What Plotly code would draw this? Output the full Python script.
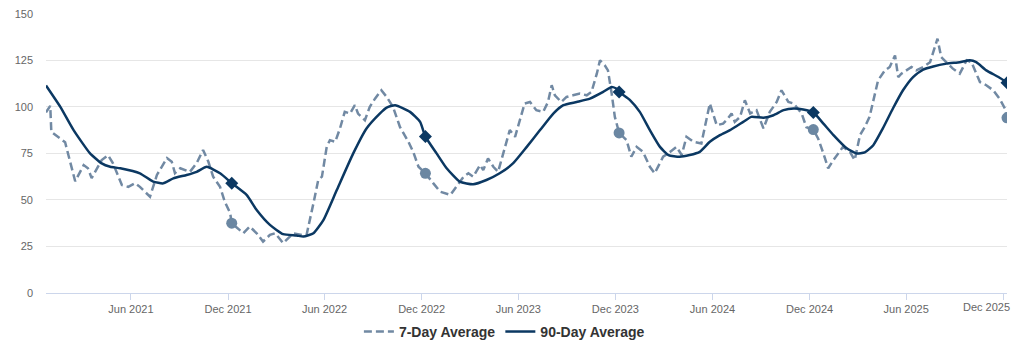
import plotly.graph_objects as go

# ---------------- data ----------------
seven_day_dates = [
    "2020-12-23", "2020-12-31", "2021-01-02", "2021-01-09", "2021-01-19", "2021-01-28", "2021-02-16",
    "2021-03-04", "2021-03-12", "2021-03-19", "2021-04-07", "2021-04-19", "2021-04-28",
    "2021-05-15", "2021-05-27", "2021-06-09", "2021-06-18", "2021-07-07", "2021-07-20",
    "2021-08-08", "2021-08-17", "2021-08-23", "2021-09-02", "2021-09-20", "2021-10-03",
    "2021-10-15", "2021-10-25", "2021-11-03", "2021-11-16", "2021-11-25", "2021-12-05",
    "2021-12-08", "2021-12-30", "2022-01-11", "2022-01-24", "2022-02-05", "2022-02-18",
    "2022-02-28", "2022-03-15", "2022-04-03", "2022-04-19", "2022-04-28", "2022-05-11",
    "2022-05-20", "2022-05-27", "2022-06-05", "2022-06-11", "2022-06-21", "2022-06-30",
    "2022-07-09", "2022-07-19", "2022-07-28", "2022-08-03", "2022-08-16", "2022-08-25",
    "2022-09-04", "2022-09-16", "2022-09-26", "2022-10-08", "2022-10-21", "2022-11-06",
    "2022-11-15", "2022-11-25", "2022-12-08", "2022-12-23", "2023-01-05", "2023-01-24",
    "2023-02-05", "2023-02-18", "2023-02-27", "2023-03-08", "2023-03-21", "2023-03-27",
    "2023-04-05", "2023-04-15", "2023-04-24", "2023-05-07", "2023-05-16", "2023-05-26",
    "2023-06-04", "2023-06-13", "2023-06-23", "2023-07-05", "2023-07-18", "2023-07-27",
    "2023-08-03", "2023-08-09", "2023-08-21", "2023-08-31", "2023-09-12", "2023-09-25",
    "2023-10-08", "2023-10-17", "2023-10-27", "2023-11-02", "2023-11-11", "2023-11-17",
    "2023-11-24", "2023-11-30", "2023-12-08", "2023-12-22", "2023-12-31", "2024-01-10",
    "2024-01-22", "2024-02-04", "2024-02-13", "2024-02-29", "2024-03-13", "2024-03-25",
    "2024-04-04", "2024-04-13", "2024-04-26", "2024-05-11", "2024-05-27", "2024-06-09",
    "2024-06-21", "2024-06-30", "2024-07-07", "2024-07-13", "2024-07-23", "2024-08-01",
    "2024-08-11", "2024-08-23", "2024-09-05", "2024-09-17", "2024-09-30", "2024-10-09",
    "2024-10-22", "2024-11-01", "2024-11-16", "2024-11-25", "2024-12-08", "2024-12-17",
    "2024-12-27", "2025-01-05", "2025-01-15", "2025-01-24", "2025-02-02", "2025-02-15",
    "2025-02-24", "2025-03-06", "2025-03-15", "2025-03-24", "2025-03-31", "2025-04-09",
    "2025-04-22", "2025-05-01", "2025-05-11", "2025-05-17", "2025-05-23", "2025-06-02",
    "2025-06-11", "2025-06-20", "2025-07-03", "2025-07-16", "2025-07-25", "2025-07-30",
    "2025-08-06", "2025-08-16", "2025-08-28", "2025-09-10", "2025-09-23", "2025-10-02",
    "2025-10-08", "2025-10-18", "2025-10-30", "2025-11-12", "2025-11-24", "2025-12-04",
    "2025-12-08",
]
seven_day_values = [
    97, 100.5, 86.6, 85, 83, 81, 60,
    68.7, 67, 61.7, 71.4, 74, 69.8,
    58, 57, 59, 57, 51.7, 63.4,
    72.5, 70.5, 64.4, 67, 65, 69.8,
    76.8, 70.5, 62.5, 57, 49, 43,
    37.5, 32.1, 35.7, 32.1, 27.6, 31.2,
    32.1, 26.8, 32.1, 31.2, 31.2, 48.2,
    60.7, 62.5, 78.5, 82.1, 81.2, 88.4,
    97.3, 96.4, 100.9, 96.4, 92.8, 99.9,
    104.4, 108.9, 105.3, 99.9, 89.2, 81.2,
    75.8, 67.8, 64.3, 58.9, 54.4, 52.7,
    57.1, 62.5, 64.3, 62.5, 68.7, 66,
    72.3, 67.8, 65.1, 78.5, 87.5, 83.9,
    92.8, 101.8, 102.6, 98.2, 97.3, 102.6,
    111.6, 106.2, 102.6, 105.3, 106.2, 107.1,
    106.2, 108, 117.8, 125, 122.3, 119.6,
    107.1, 94.6, 86, 82.1, 73.2, 78.5,
    75.8, 67.8, 64.3, 73.2, 75.8, 78.5,
    74.1, 83.9, 81.2, 80.3, 101.8, 90.1,
    91, 93.7, 96.4, 91.9, 94.6, 103.5,
    96.4, 98.2, 88.4, 97.3, 102.6, 108.9,
    102.6, 101.8, 96.4, 89, 87.8, 83,
    75, 67, 71.4, 75, 78.5, 75.8,
    71.4, 84.8, 89.2, 94.6, 103.5, 114.2,
    119.6, 121.4, 127.6, 116, 117.8, 119.6,
    121.4, 119.6, 121.4, 124, 132.1, 136.6,
    126.7, 124, 120.5, 117.8, 125, 124,
    119.6, 113.3, 111.6, 108.9, 104.4, 99.1,
    94.1,
]

ninety_day_dates = [
    "2020-12-23", "2021-01-19", "2021-02-13", "2021-03-16", "2021-04-07", "2021-04-23",
    "2021-05-12", "2021-06-18", "2021-07-13", "2021-08-01", "2021-08-20", "2021-09-14",
    "2021-10-03", "2021-10-22", "2021-11-16", "2021-12-08", "2022-01-05", "2022-01-24",
    "2022-02-18", "2022-03-15", "2022-04-09", "2022-04-22", "2022-05-11", "2022-05-30",
    "2022-06-24", "2022-07-25", "2022-08-19", "2022-09-13", "2022-09-26", "2022-10-12",
    "2022-11-09", "2022-11-28", "2022-12-08", "2022-12-29", "2023-01-17", "2023-02-11",
    "2023-03-08", "2023-04-02", "2023-04-27", "2023-05-22", "2023-06-17", "2023-07-12",
    "2023-08-06", "2023-08-25", "2023-09-19", "2023-10-14", "2023-11-08", "2023-11-24",
    "2023-12-03", "2023-12-08", "2023-12-29", "2024-01-16", "2024-02-04", "2024-02-23",
    "2024-03-10", "2024-03-31", "2024-04-19", "2024-05-08", "2024-05-27", "2024-06-15",
    "2024-07-04", "2024-07-16", "2024-07-29", "2024-08-13", "2024-09-05", "2024-09-24",
    "2024-10-13", "2024-11-01", "2024-11-19", "2024-12-08", "2024-12-27", "2025-01-15",
    "2025-02-09", "2025-02-27", "2025-03-15", "2025-03-31", "2025-04-18", "2025-05-07",
    "2025-05-26", "2025-06-14", "2025-07-03", "2025-07-22", "2025-08-16", "2025-09-10",
    "2025-09-29", "2025-10-11", "2025-10-30", "2025-11-22", "2025-12-08",
]
ninety_day_values = [
    111.5, 100, 87.5, 75, 69.6, 67.8,
    67, 64.3, 59.8, 58.9, 61.6, 63.4,
    65.1, 67.8, 64.3, 59, 52.7, 44.6,
    36.6, 31.6, 30.9, 30.3, 32.1, 39.3,
    55.3, 75, 88.4, 96.4, 99.6, 100.9,
    97.3, 91.9, 84, 75, 67, 59.8,
    58.4, 60.7, 64.3, 69.6, 78.5, 87.5,
    96.4, 100.9, 102.6, 104.4, 108, 110.7,
    109.8, 108, 103.5, 97.3, 87.5, 78.5,
    74.1, 73.2, 74.1, 75.8, 81.2, 84.8,
    87.5, 89.6, 91.9, 94.6, 94.1, 95.5,
    98.2, 99.1, 98.6, 97, 91, 84.8,
    77.7, 75, 75.5, 79.4, 88.4, 99.1,
    108.9, 116, 120, 121.7, 123.2, 124,
    125, 124, 119.6, 116, 113,
]

marker_dates = ["2021-12-08", "2022-12-08", "2023-12-08", "2024-12-08", "2025-12-08"]

tick_dates = ["2021-06-01", "2021-12-01", "2022-06-01", "2022-12-01", "2023-06-01",
              "2023-12-01", "2024-06-01", "2024-12-01", "2025-06-01", "2025-12-01"]
tick_labels = ["Jun 2021", "Dec 2021", "Jun 2022", "Dec 2022", "Jun 2023",
               "Dec 2023", "Jun 2024", "Dec 2024", "Jun 2025", "Dec 2025"]
y_ticks = [0, 25, 50, 75, 100, 125, 150]

# ---------------- styles ----------------
C7 = "#7189a3"
C7_MARK = "#6b87a2"
C90 = "#0b3862"
FONT = "Liberation Sans, Arial, sans-serif"

seven_map = dict(zip(seven_day_dates, seven_day_values))
ninety_map = dict(zip(ninety_day_dates, ninety_day_values))

fig = go.Figure()
fig.add_trace(go.Scatter(
    x=seven_day_dates, y=seven_day_values, mode="lines", name="7-Day Average",
    line=dict(color=C7, width=2.5, dash="8px,4px"),
))
fig.add_trace(go.Scatter(
    x=ninety_day_dates, y=ninety_day_values, mode="lines", name="90-Day Average",
    line=dict(color=C90, width=2.5, shape="spline", smoothing=0.5),
))
fig.add_trace(go.Scatter(
    x=marker_dates, y=[seven_map[d] for d in marker_dates], mode="markers",
    showlegend=False, marker=dict(color=C7_MARK, size=11, symbol="circle",
                                  line=dict(width=0)),
))
fig.add_trace(go.Scatter(
    x=marker_dates, y=[ninety_map[d] for d in marker_dates], mode="markers",
    showlegend=False, marker=dict(color=C90, size=10, symbol="diamond",
                                  line=dict(width=0)),
))

# last tick label is nudged left so it stays inside the page (as in the reference)
shown_ticktext = tick_labels[:-1] + [""]
fig.add_annotation(
    x=tick_dates[-1], y=0, xref="x", yref="y", text=tick_labels[-1],
    showarrow=False, yanchor="top", xanchor="center", xshift=-17, yshift=-6,
    font=dict(family=FONT, size=11, color="#666666"),
)

# page body has an 8px margin, so the figure is 8px smaller than the window
fig.update_layout(
    width=1016, height=353,
    margin=dict(l=38, r=17, t=5, b=68, autoexpand=False),
    paper_bgcolor="white", plot_bgcolor="white",
    font=dict(family=FONT, color="#666666", size=11),
    showlegend=True,
    legend=dict(orientation="h", x=0.477, xanchor="center", y=-0.139, yanchor="middle",
                font=dict(family=FONT, size=14, color="#333333", weight="bold"),
                itemwidth=30, tracegroupgap=0, bgcolor="rgba(0,0,0,0)"),
    hovermode="x unified",
)
fig.update_xaxes(
    type="date", range=["2020-12-23", "2025-12-08"], automargin=False,
    tickvals=tick_dates, ticktext=shown_ticktext,
    showgrid=False, showline=True, linecolor="#ccd6eb", linewidth=1,
    ticks="outside", ticklen=6, tickcolor="#ccd6eb",
    tickfont=dict(size=11, color="#666666"), zeroline=False,
)
fig.update_yaxes(
    range=[0, 150.4], tickvals=y_ticks, showgrid=True, gridcolor="#e6e6e6", gridwidth=1,
    zeroline=False, showline=False, ticks="", ticklabelstandoff=12, automargin=False,
    ticklabeloverflow="allow",
    tickfont=dict(size=11, color="#666666"),
)

fig.write_html("out.html")
